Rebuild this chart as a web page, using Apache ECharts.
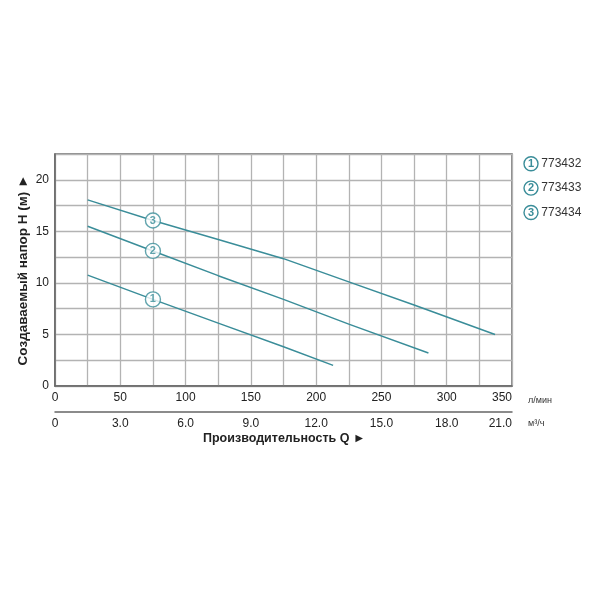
<!DOCTYPE html>
<html>
<head>
<meta charset="utf-8">
<script src="https://cdn.jsdelivr.net/npm/echarts@6/dist/echarts.min.js"></script>
<style>
  html, body { margin: 0; padding: 0; background: #fff; }
  #chart { width: 600px; height: 600px; }
</style>
</head>
<body>
<div id="chart"></div>
<script>
// модели насосов
const models = ['773432', '773433', '773434']
const numbers = ['1', '2', '3']

// кривые Q (л/мин) -> H (м)
const curve1 = [[25, 10.75], [75, 8.4], [125, 6.1], [175, 3.8], [213, 2.0]]
const curve2 = [[25, 15.5], [75, 13.1], [125, 10.7], [175, 8.4], [225, 6.0], [286, 3.2]]
const curve3 = [[25, 18.05], [75, 16.05], [125, 14.2], [175, 12.35], [225, 10.1], [275, 7.85], [337, 5.0]]

// где стоят номерки на кривых
const markerQ = 75
const markerH = [8.4, 13.1, 16.05]

// оси
const qMax = 350      // л/мин
const qLabelStep = 50
const m3Max = 21      // м³/ч
const m3Step = 3
const hMax = 22.5
const hLabelStep = 5

const teal = '#3a8d99'
const font = 'Liberation Sans, Arial, sans-serif'

let chart = echarts.init(document.getElementById('chart'))

let curves = [curve1, curve2, curve3]
let series = []
curves.forEach((data, i) => {
    series.push({
        name: models[i],
        type: 'line',
        data: data,
        symbol: 'none',
        smooth: false,
        lineStyle: { color: teal, width: 1.5 },
        itemStyle: { color: teal },
        z: 3
    })
})
// номерки на кривых
series.push({
    type: 'scatter',
    data: markerH.map((h, i) => ({ value: [markerQ, h], label: { formatter: numbers[i] } })),
    symbol: 'circle',
    symbolSize: 15,
    itemStyle: { color: '#fff', borderColor: teal, borderWidth: 1.4 },
    label: {
        show: true,
        position: 'inside',
        color: teal,
        fontSize: 11,
        fontWeight: 'bold',
        fontFamily: font
    },
    z: 5,
    silent: true
})

let option = {
    backgroundColor: '#fff',
    animation: false,
    textStyle: { fontFamily: font },
    grid: {
        left: 55, right: 88, top: 154, bottom: 214,
        show: true,
        borderColor: '#666',
        borderWidth: 1.5
    },
    legend: {
        orient: 'vertical',
        left: 514,
        top: 151,
        itemGap: 9,
        itemWidth: 0,
        itemHeight: 0,
        icon: 'rect',
        selectedMode: false,
        data: models,
        formatter: function (name) {
            return '{n|' + numbers[models.indexOf(name)] + '} ' + name
        },
        textStyle: {
            color: '#333',
            fontSize: 12,
            fontFamily: font,
            rich: {
                n: {
                    width: 14,
                    height: 14,
                    lineHeight: 14,
                    align: 'center',
                    borderRadius: 8,
                    borderColor: teal,
                    borderWidth: 1.4,
                    color: teal,
                    fontSize: 11,
                    fontWeight: 'bold'
                }
            }
        }
    },
    xAxis: [{
        type: 'value',
        min: 0,
        max: qMax,
        interval: qLabelStep / 2,
        position: 'bottom',
        name: 'л/мин',
        nameLocation: 'end',
        nameGap: 16,
        nameTextStyle: { fontSize: 9, color: '#333', verticalAlign: 'top', padding: [10, 0, 0, 0] },
        axisLine: { lineStyle: { color: '#666', width: 1.5 } },
        axisTick: { show: false },
        axisLabel: {
            color: '#222',
            fontSize: 12,
            margin: 6,
            alignMaxLabel: 'right',
            formatter: v => (v % qLabelStep === 0 ? String(v) : '')
        },
        splitLine: { lineStyle: { color: '#b3b3b3', width: 1.3 } }
    }, {
        type: 'value',
        min: 0,
        max: m3Max,
        interval: m3Step,
        position: 'bottom',
        offset: 26,
        name: 'м³/ч',
        nameLocation: 'end',
        nameGap: 16,
        nameTextStyle: { fontSize: 9, color: '#333', verticalAlign: 'top', padding: [7, 0, 0, 0] },
        axisLine: { show: true, lineStyle: { color: '#666', width: 1.5 } },
        axisTick: { show: false },
        axisLabel: {
            color: '#222',
            fontSize: 12,
            margin: 6,
            alignMaxLabel: 'right',
            formatter: v => (v === 0 ? '0' : v.toFixed(1))
        },
        splitLine: { show: false }
    }],
    yAxis: {
        type: 'value',
        min: 0,
        max: hMax,
        interval: hLabelStep / 2,
        name: 'Создаваемый напор H (м) ►',
        nameLocation: 'middle',
        nameGap: 25,
        nameMoveOverlap: false,
        nameTextStyle: { fontSize: 13.5, fontWeight: 'bold', color: '#222' },
        axisLine: { show: true, lineStyle: { color: '#666', width: 1.5 } },
        axisTick: { show: false },
        axisLabel: {
            color: '#222',
            fontSize: 12,
            margin: 6,
            formatter: v => (v % hLabelStep === 0 ? String(v) : '')
        },
        splitLine: { lineStyle: { color: '#b3b3b3', width: 1.3 } }
    },
    graphic: [{
        type: 'text',
        left: 203,
        top: 432,
        style: {
            text: 'Производительность Q ►',
            fontSize: 12.5,
            fontWeight: 'bold',
            fill: '#222',
            fontFamily: font
        }
    }],
    series: series
}

chart.setOption(option)
</script>
</body>
</html>
